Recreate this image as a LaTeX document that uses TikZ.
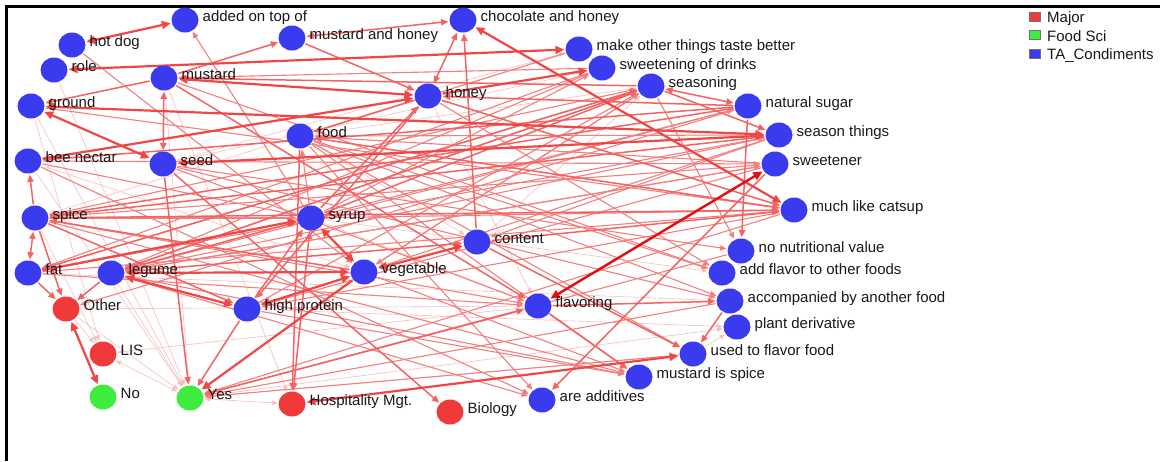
\documentclass[tikz,border=0pt]{standalone}
\usepackage{fontspec}
\setmainfont{Liberation Sans}
\usetikzlibrary{arrows.meta,shapes.geometric}
\definecolor{nb}{RGB}{58,58,238}
\definecolor{nr}{RGB}{240,58,58}
\definecolor{ng}{RGB}{62,236,62}
\definecolor{labelgray}{RGB}{25,25,25}
\definecolor{ecol0}{RGB}{248,190,190}
\definecolor{ecol1}{RGB}{243,128,128}
\definecolor{ecol2}{RGB}{242,100,100}
\definecolor{ecol3}{RGB}{240,70,70}
\definecolor{ecol4}{RGB}{225,15,15}
\pgfdeclarelayer{paper}
\pgfdeclarelayer{edges}
\pgfsetlayers{paper,edges,main}
\begin{document}
\begin{tikzpicture}[x=1pt,y=-1pt,
  dot/.style={ellipse,minimum width=27pt,minimum height=25pt,inner sep=0pt,draw=none},
  lab/.style={anchor=base west,inner sep=0pt,font=\fontsize{15}{18}\selectfont,text=labelgray},
  legbox/.style={draw=black!55,line width=0.5pt},
  conn/.style={shorten >=1pt,shorten <=1pt,>={Triangle[length=4pt 2.2,width=3pt 2.2]}},
  e0/.style={conn,draw=ecol0,line width=0.6pt},
  e1/.style={conn,draw=ecol1,line width=1.1pt},
  e2/.style={conn,draw=ecol2,line width=1.5pt},
  e3/.style={conn,draw=ecol3,line width=2.2pt},
  e4/.style={conn,draw=ecol4,line width=2.4pt}]
\begin{pgfonlayer}{paper}
\fill[white] (0,0) rectangle (1160,461);
\end{pgfonlayer}
\useasboundingbox (0,0) rectangle (1160,461);

% frame
\draw[line width=3pt] (6.5,461) -- (6.5,6.5) -- (1160,6.5);

% vertices with their labels
\foreach \n/\x/\y/\t/\c in {
  addtop/185/20/added on top of/nb,
  hotdog/72/45/hot dog/nb,
  role/54/70/role/nb,
  mushon/292/38/mustard and honey/nb,
  choc/463/20/chocolate and honey/nb,
  makeother/579/49/make other things taste better/nb,
  sweetdr/602/68/sweetening of drinks/nb,
  seasoning/651/86/seasoning/nb,
  natsugar/748/106/natural sugar/nb,
  seasthings/779/135/season things/nb,
  sweetener/775/164/sweetener/nb,
  catsup/794/210/much like catsup/nb,
  mustard/164/78/mustard/nb,
  honey/428/96/honey/nb,
  ground/31/106/ground/nb,
  food/300/136/food/nb,
  bee/28/161/bee nectar/nb,
  seed/163/164/seed/nb,
  spice/35/218/spice/nb,
  syrup/311/218/syrup/nb,
  content/477/242/content/nb,
  nonutr/741/251/no nutritional value/nb,
  fat/28/273/fat/nb,
  legume/111/273/legume/nb,
  vegetable/364/272/vegetable/nb,
  addflavor/722/273/add flavor to other foods/nb,
  other/66/309/Other/nr,
  highprot/247/309/high protein/nb,
  flavoring/538/306/flavoring/nb,
  accomp/730/301/accompanied by another food/nb,
  plantder/737/327/plant derivative/nb,
  lis/103/354/LIS/nr,
  usedflavor/693/354/used to flavor food/nb,
  mustspice/639/377/mustard is spice/nb,
  no/103/397/No/ng,
  yes/190/398/Yes/ng,
  hosp/292/404/Hospitality Mgt./nr,
  additives/542/400/are additives/nb,
  biology/450/412/Biology/nr}
{
  \node[dot,fill=\c] (\n) at (\x,\y) {};
  \node[lab] (\n-t) at (\x+17.5,\y+1) {\t};
}

% legend
\node[legbox,fill=nr,minimum width=11pt,minimum height=9pt,inner sep=0pt] (lmaj) at (1035,16.5) {};
\node[legbox,fill=ng,minimum width=11pt,minimum height=9pt,inner sep=0pt] (lfood) at (1035,35) {};
\node[legbox,fill=nb,minimum width=11pt,minimum height=9pt,inner sep=0pt] (lta) at (1035,53.5) {};
\node[lab] (lmaj-t) at (1047,22.5) {Major};
\node[lab] (lfood-t) at (1047,41) {Food Sci};
\node[lab] (lta-t) at (1047,59.5) {TA\_Condiments};

\begin{pgfonlayer}{edges}
% faint ties
\foreach \a/\b in {role/yes,ground/lis,flavoring/lis,other/lis,usedflavor/plantder,other/yes,
  ground/yes,legume/yes,yes/plantder,mustard/yes,mustard/hosp,bee/vegetable,food/content,
  honey/flavoring,seasoning/food,syrup/addflavor,sweetdr/seed,makeother/spice,
  content/seasoning,seed/makeother,highprot/plantder,other/flavoring,fat/accomp,
  yes/usedflavor,spice/lis,bee/yes,syrup/flavoring}
  \draw[e0,->] (\a) -- (\b);
\foreach \a/\b in {lis/yes,yes/hosp}
  \draw[e0,<->] (\a) -- (\b);
\draw[e0,dashed] (addflavor) -- (accomp);

% light ties
\foreach \a/\b in {syrup/sweetdr,bee/additives,legume/mustspice,food/accomp,food/addflavor,
  usedflavor/yes,accomp/yes,nonutr/yes,catsup/yes,hotdog/vegetable,syrup/addtop,food/additives,
  seasoning/legume,sweetdr/fat,sweetener/legume,seasoning/vegetable,natsugar/syrup,fat/catsup,
  seasoning/nonutr,seed/flavoring,food/seasthings,makeother/food,sweetener/highprot,
  sweetdr/mustard,sweetener/food,natsugar/other,seasthings/legume,
  spice/seasoning,fat/seasthings,legume/sweetener,spice/sweetener,bee/sweetener,
  legume/natsugar,vegetable/seasoning,highprot/seasoning,seed/accomp,food/mustspice,
  seasthings/content,syrup/catsup,bee/syrup,spice/syrup,syrup/food,fat/flavoring,
  spice/flavoring,legume/additives,spice/mustspice,food/usedflavor,seed/nonutr,
  mustard/addflavor,honey/addflavor,ground/catsup,vegetable/mustspice,highprot/mustspice,
  seasoning/fat,sweetdr/legume,catsup/highprot,seasthings/vegetable}
  \draw[e1,->] (\a) -- (\b);

% medium ties
\foreach \a/\b in {mustard/mushon,mushon/honey,content/choc,seasoning/seasthings,honey/catsup,
  spice/bee,fat/other,natsugar/spice,seasthings/spice,vegetable/spice,mustard/flavoring,
  flavoring/mustspice,flavoring/accomp,content/usedflavor,content/catsup,sweetener/additives,
  seed/biology,food/hosp,legume/syrup,highprot/syrup,legume/content,natsugar/nonutr,
  mustard/ground,catsup/food,legume/other,spice/highprot,accomp/usedflavor,seed/yes,
  highprot/yes,fat/seasoning,legume/seasoning,syrup/seasoning,honey/food,natsugar/honey,
  natsugar/bee,spice/other,spice/catsup,honey/highprot,seasoning/mustard,syrup/honey}
  \draw[e2,->] (\a) -- (\b);
\foreach \a/\b in {mushon/choc,honey/choc,mustard/seed,seasoning/natsugar,spice/fat,
  syrup/hosp,yes/flavoring}
  \draw[e2,<->] (\a) -- (\b);

% strong ties
\foreach \a/\b in {bee/honey,honey/sweetdr,fat/syrup,vegetable/yes}
  \draw[e3,->] (\a) -- (\b);
\foreach \a/\b in {hotdog/addtop,role/makeother,honey/mustard,ground/seed,ground/seasthings,
  seed/seasthings,choc/catsup,legume/highprot,highprot/vegetable,legume/vegetable,
  vegetable/content,usedflavor/hosp,other/no,syrup/vegetable}
  \draw[e3,<->] (\a) -- (\b);

% strongest tie
\draw[e4,<->] (flavoring) -- (sweetener);
\end{pgfonlayer}
\end{tikzpicture}
\end{document}
